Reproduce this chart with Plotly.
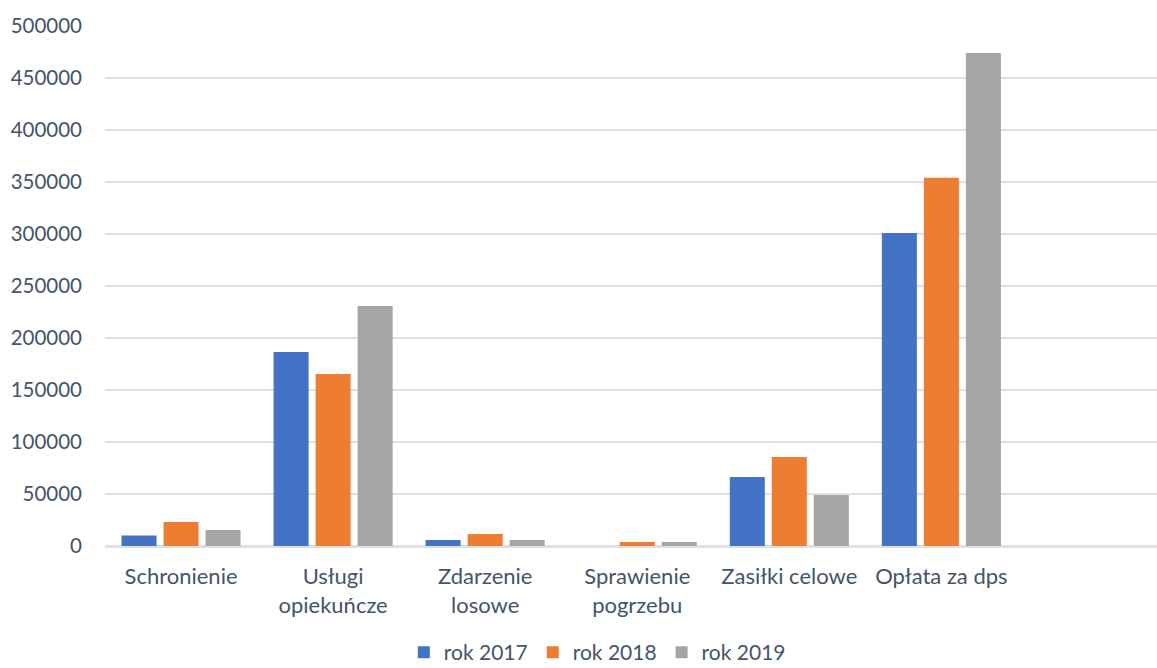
import plotly.graph_objects as go

categories = ["Schronienie", "Usługi<br>opiekuńcze", "Zdarzenie<br>losowe",
              "Sprawienie<br>pogrzebu", "Zasiłki celowe", "Opłata za dps"]
rok_2017 = [10000, 186500, 5800, 0, 66300, 301000]
rok_2018 = [23000, 165400, 11500, 3800, 85600, 354000]
rok_2019 = [15400, 230800, 5800, 3800, 49000, 474000]

series = [
    ("rok 2017", rok_2017, "#4472C4"),
    ("rok 2018", rok_2018, "#ED7D31"),
    ("rok 2019", rok_2019, "#A5A5A5"),
]

text_color = "#44546A"
grid_color = "#DDE1E7"
font_family = "Lato, 'Open Sans', sans-serif"

fig = go.Figure()
for name, values, color in series:
    fig.add_trace(go.Bar(
        name=name, x=categories, y=values,
        marker=dict(color=color, line=dict(width=0)),
    ))

fig.update_layout(
    width=1157, height=668,
    margin=dict(l=105, r=0, t=26, b=122, autoexpand=False),
    paper_bgcolor="white", plot_bgcolor="white",
    barmode="group", bargap=0.171, bargroupgap=0.1667,
    font=dict(family=font_family, size=21, color=text_color),
    showlegend=True,
    legend=dict(orientation="h", x=0.468, xanchor="center", y=-0.205, yanchor="middle",
                font=dict(size=21, color=text_color), itemwidth=30,
                traceorder="normal"),
)
fig.update_xaxes(
    type="category", range=[-0.5, 6.418], automargin=False,
    showgrid=False, showline=True, linecolor=grid_color, linewidth=2,
    ticks="", ticklabelstandoff=10, tickfont=dict(size=22, color=text_color),
)
fig.update_yaxes(
    range=[0, 500000], dtick=50000, tickformat="d", automargin=False,
    showgrid=True, gridcolor=grid_color, gridwidth=2,
    zeroline=True, zerolinecolor=grid_color, zerolinewidth=2,
    showline=False, ticks="", ticklabelstandoff=22,
    tickfont=dict(size=20.5, color=text_color),
)

fig.write_html("out.html")
